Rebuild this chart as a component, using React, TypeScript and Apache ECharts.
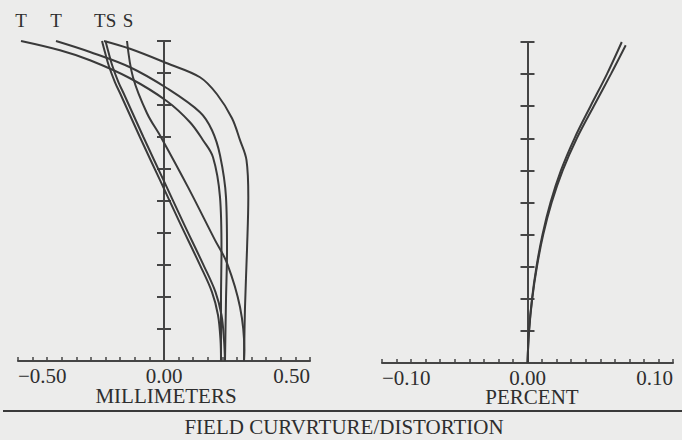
import React, { useEffect, useRef } from 'react';
import * as echarts from 'echarts';

// Field curvature (x: millimeters, y: relative field 0..1)
const curveT1: number[][] = [[-0.4897, 1.0], [-0.3562, 0.971], [-0.2534, 0.9398], [-0.1164, 0.8836], [0.0103, 0.8118], [0.089, 0.7462], [0.1336, 0.69], [0.1678, 0.6369], [0.1918, 0.512], [0.1969, 0.3465], [0.1952, 0.1904], [0.1952, 0]];
const curveT2: number[][] = [[-0.3699, 1.0], [-0.2534, 0.9657], [-0.1164, 0.9179], [0.0103, 0.8523], [0.1233, 0.7774], [0.1644, 0.7212], [0.1918, 0.6432], [0.2123, 0.512], [0.2158, 0.3465], [0.2123, 0.1904], [0.2089, 0]];
const curveT3: number[][] = [[-0.2055, 1.0], [-0.1164, 0.9756], [0.0103, 0.9304], [0.1233, 0.8867], [0.1815, 0.8336], [0.2329, 0.7587], [0.2603, 0.69], [0.2825, 0.6275], [0.2887, 0.512], [0.2842, 0.3465], [0.2774, 0.1686], [0.274, 0]];
const curveS1: number[][] = [[-0.2123, 1.0], [-0.2021, 0.9647], [-0.1884, 0.921], [-0.1678, 0.871], [-0.1473, 0.8305], [-0.0822, 0.6993], [-0.0137, 0.5651], [0.0548, 0.4309], [0.1233, 0.2997], [0.1644, 0.2154], [0.1849, 0.1436], [0.1935, 0.0656], [0.1952, 0]];
const curveS2: number[][] = [[-0.2003, 1.0], [-0.1901, 0.9647], [-0.1764, 0.921], [-0.1558, 0.871], [-0.1353, 0.8305], [-0.0702, 0.6993], [-0.0017, 0.5651], [0.0668, 0.4309], [0.1353, 0.2997], [0.1764, 0.2154], [0.1969, 0.1436], [0.2055, 0.0656], [0.2089, 0]];
const curveS3: number[][] = [[-0.1267, 1.0], [-0.1062, 0.8867], [-0.0582, 0.7743], [-0.0103, 0.6994], [0.0822, 0.5433], [0.1747, 0.3778], [0.2158, 0.306], [0.2603, 0.1686], [0.275, 0.0343], [0.274, 0]];

// Distortion (x: percent, y: relative field)
const distortion1: number[][] = [[0, 0], [0.00103, 0.1], [0.00309, 0.2], [0.00618, 0.3], [0.0103, 0.4], [0.0158, 0.5], [0.023, 0.6], [0.0323, 0.7], [0.0433, 0.8], [0.0546, 0.9], [0.0648, 1.0]];
const distortion2: number[][] = [[0, 0], [0.00108, 0.1], [0.00324, 0.2], [0.00649, 0.3], [0.0108, 0.4], [0.0166, 0.5], [0.0242, 0.6], [0.0339, 0.7], [0.0455, 0.8], [0.0573, 0.9], [0.0675, 0.99]];

// Curve labels at the top of the field curvature plot
const curveLabelNames = ['T', 'T', 'TS', 'S'];
const curveLabelX = [-0.4897, -0.3699, -0.2015, -0.1233];

const leftRange = [-0.5, 0.5];
const rightRange = [-0.1, 0.1];

const FONT = 'Liberation Serif';
const INK = '#3a3a3a';
const AXIS = '#454545';
const TEXT = '#2e2e2e';

function fmt(v: number) {
  if (Math.abs(v) < 1e-9) return '0.00';
  return (v < 0 ? '\u2212' : '') + Math.abs(v).toFixed(2);
}

function xAxisCfg(grid: number, range: number[], interval: number) {
  return {
    gridIndex: grid,
    type: 'value',
    min: range[0],
    max: range[1],
    interval,
    axisLine: { show: true, onZero: true, lineStyle: { color: AXIS, width: 2 } },
    axisTick: { show: true, inside: true, length: 4, lineStyle: { color: AXIS, width: 1.5 } },
    minorTick: { show: true, splitNumber: 10, length: 4, lineStyle: { color: AXIS, width: 1.5 } },
    axisLabel: {
      formatter: fmt,
      fontFamily: FONT,
      fontSize: 21,
      color: TEXT,
      margin: 4,
      alignMinLabel: 'left',
      alignMaxLabel: 'right',
    },
    splitLine: { show: false },
    minorSplitLine: { show: false },
  };
}

function yAxisCfg(grid: number, xIndex: number, position: string) {
  return {
    gridIndex: grid,
    type: 'value',
    min: 0,
    max: 1,
    interval: 0.1,
    position,
    axisLine: { show: true, onZero: true, onZeroAxisIndex: xIndex, lineStyle: { color: AXIS, width: 2 } },
    axisTick: { show: true, inside: false, length: 7, lineStyle: { color: AXIS, width: 2 } },
    axisLabel: { show: false },
    splitLine: { show: false },
  };
}

function curve(data: number[][], xi: number, yi: number) {
  return {
    type: 'line',
    xAxisIndex: xi,
    yAxisIndex: yi,
    data,
    smooth: 0.35,
    symbol: 'none',
    silent: true,
    clip: false,
    lineStyle: { color: INK, width: 2 },
    z: 3,
  };
}

export default function App() {
  const ref = useRef<HTMLDivElement>(null);
  useEffect(() => {
    document.body.style.margin = '0';
    const chart = echarts.init(ref.current!, null, { renderer: 'svg' });
    const staticGraphic: any[] = [
      {
        type: 'text',
        x: 166,
        y: 396,
        style: { text: 'MILLIMETERS', fontFamily: FONT, fontSize: 21, fill: TEXT, align: 'center', verticalAlign: 'middle' },
      },
      {
        type: 'text',
        x: 532,
        y: 397,
        style: { text: 'PERCENT', fontFamily: FONT, fontSize: 21, fill: TEXT, align: 'center', verticalAlign: 'middle' },
      },
      {
        type: 'line',
        shape: { x1: 3, y1: 411, x2: 682, y2: 411 },
        style: { stroke: '#3a3a3a', lineWidth: 2 },
      },
      {
        type: 'text',
        x: 344,
        y: 427,
        style: { text: 'FIELD CURVRTURE/DISTORTION', fontFamily: FONT, fontSize: 21, fill: TEXT, align: 'center', verticalAlign: 'middle' },
      },
    ];
    chart.setOption({
      animation: false,
      backgroundColor: '#ececeb',
      grid: [
        { left: 18, top: 41, width: 292, height: 320, outerBoundsMode: 'none' },
        { left: 382, top: 42, width: 291, height: 321, outerBoundsMode: 'none' },
      ],
      xAxis: [xAxisCfg(0, leftRange, 0.5), xAxisCfg(1, rightRange, 0.1)],
      yAxis: [yAxisCfg(0, 0, 'left'), yAxisCfg(0, 0, 'right'), yAxisCfg(1, 1, 'left'), yAxisCfg(1, 1, 'right')],
      series: [
        curve(curveT1, 0, 0),
        curve(curveT2, 0, 0),
        curve(curveT3, 0, 0),
        curve(curveS1, 0, 0),
        curve(curveS2, 0, 0),
        curve(curveS3, 0, 0),
        curve(distortion1, 1, 2),
        curve(distortion2, 1, 2),
      ],
      graphic: staticGraphic,
    });
    // Curve labels, positioned through the chart's own scale
    const labelGraphic = curveLabelNames.map((name, i) => {
      const p = chart.convertToPixel({ gridIndex: 0 }, [curveLabelX[i], 1]) as number[];
      return {
        type: 'text',
        x: p[0],
        y: p[1] - 21,
        style: { text: name, fontFamily: FONT, fontSize: 19, fill: TEXT, align: 'center', verticalAlign: 'middle' },
      };
    });
    chart.setOption({ graphic: [...staticGraphic, ...labelGraphic] });
    return () => chart.dispose();
  }, []);
  return <div ref={ref} style={{ width: 682, height: 440 }} />;
}
